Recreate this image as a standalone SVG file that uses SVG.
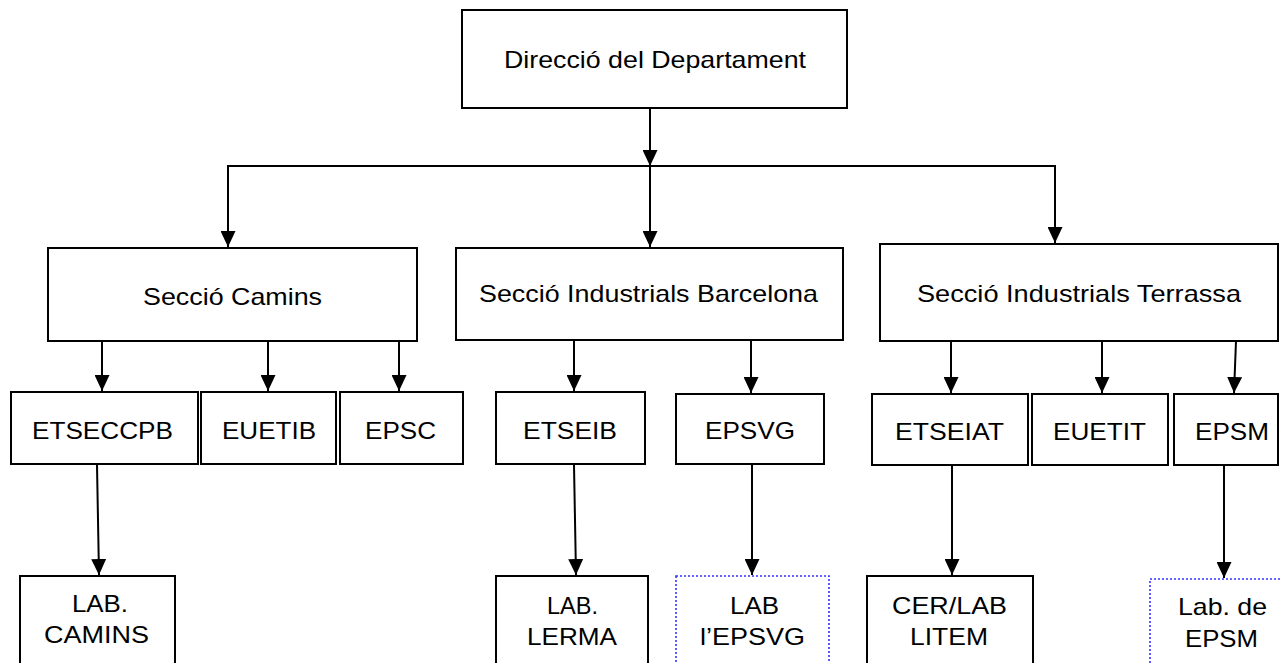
<svg xmlns="http://www.w3.org/2000/svg" width="1280" height="663" viewBox="0 0 1280 663">
<style>
.box{fill:#fff;stroke:#000;stroke-width:2}
.dot{fill:#fff;stroke:#3333ff;stroke-width:1.6;stroke-dasharray:2 2}
.t{font-family:"Liberation Sans",Arial,sans-serif;font-size:24px;fill:#000;text-anchor:middle}
.c{fill:none;stroke:#000;stroke-width:2}
</style>
<defs>
<marker id="ah" markerUnits="userSpaceOnUse" markerWidth="16" markerHeight="15" viewBox="0 0 16 15" refX="16" refY="7.5" orient="auto">
<path d="M0,0 L16,7.5 L0,15 z" fill="#000"/>
</marker>
</defs>
<rect width="1280" height="663" fill="#fff"/>
<g id="connectors">
<line class="c" x1="650" y1="108" x2="650" y2="166" marker-end="url(#ah)"/>
<polyline class="c" points="228,248 228,166 1055,166 1055,244" marker-end="none"/>
<line class="c" x1="228" y1="166" x2="228" y2="247" marker-end="url(#ah)"/>
<line class="c" x1="1055" y1="166" x2="1055" y2="243" marker-end="url(#ah)"/>
<line class="c" x1="650" y1="166" x2="650" y2="247" marker-end="url(#ah)"/>
<line class="c" x1="102" y1="341" x2="102" y2="391" marker-end="url(#ah)"/>
<line class="c" x1="268" y1="341" x2="268" y2="391" marker-end="url(#ah)"/>
<line class="c" x1="399" y1="341" x2="399" y2="391" marker-end="url(#ah)"/>
<line class="c" x1="574" y1="340" x2="574" y2="391" marker-end="url(#ah)"/>
<line class="c" x1="751" y1="340" x2="751" y2="393" marker-end="url(#ah)"/>
<line class="c" x1="951" y1="341" x2="951" y2="393" marker-end="url(#ah)"/>
<line class="c" x1="1102" y1="341" x2="1102" y2="393" marker-end="url(#ah)"/>
<line class="c" x1="1236" y1="341" x2="1234" y2="393" marker-end="url(#ah)"/>
<line class="c" x1="97" y1="465" x2="99" y2="575" marker-end="url(#ah)"/>
<line class="c" x1="574" y1="465" x2="576" y2="575" marker-end="url(#ah)"/>
<line class="c" x1="752" y1="465" x2="752" y2="575" marker-end="url(#ah)"/>
<line class="c" x1="952" y1="466" x2="952" y2="575" marker-end="url(#ah)"/>
<line class="c" x1="1224" y1="466" x2="1224" y2="578" marker-end="url(#ah)"/>
</g>
<g id="direccio"><rect class="box" x="462" y="10" width="385" height="98"/><text class="t" x="655" y="68" font-size="23" textLength="302" lengthAdjust="spacingAndGlyphs">Direcció del Departament</text></g>
<g id="seccio-camins"><rect class="box" x="48" y="248" width="369" height="93"/><text class="t" x="232.5" y="305" textLength="179" lengthAdjust="spacingAndGlyphs">Secció Camins</text></g>
<g id="seccio-ib"><rect class="box" x="456" y="248" width="387" height="92"/><text class="t" x="648.5" y="302" textLength="339" lengthAdjust="spacingAndGlyphs">Secció Industrials Barcelona</text></g>
<g id="seccio-it"><rect class="box" x="880" y="244" width="398" height="97"/><text class="t" x="1079" y="302" textLength="324" lengthAdjust="spacingAndGlyphs">Secció Industrials Terrassa</text></g>
<g id="etseccpb"><rect class="box" x="11" y="392" width="187" height="72"/><text class="t" x="102.5" y="439" textLength="141" lengthAdjust="spacingAndGlyphs">ETSECCPB</text></g>
<g id="euetib"><rect class="box" x="201" y="392" width="135" height="72"/><text class="t" x="269" y="439" textLength="94" lengthAdjust="spacingAndGlyphs">EUETIB</text></g>
<g id="epsc"><rect class="box" x="340" y="392" width="123" height="72"/><text class="t" x="400.5" y="439" textLength="71" lengthAdjust="spacingAndGlyphs">EPSC</text></g>
<g id="etseib"><rect class="box" x="496" y="392" width="149" height="72"/><text class="t" x="570" y="439" textLength="94" lengthAdjust="spacingAndGlyphs">ETSEIB</text></g>
<g id="epsvg"><rect class="box" x="676" y="394" width="148" height="70"/><text class="t" x="750" y="439" textLength="90" lengthAdjust="spacingAndGlyphs">EPSVG</text></g>
<g id="etseiat"><rect class="box" x="872" y="394" width="156" height="71"/><text class="t" x="949.5" y="440" textLength="109" lengthAdjust="spacingAndGlyphs">ETSEIAT</text></g>
<g id="euetit"><rect class="box" x="1032" y="394" width="136" height="71"/><text class="t" x="1099.5" y="440" textLength="93" lengthAdjust="spacingAndGlyphs">EUETIT</text></g>
<g id="epsm"><rect class="box" x="1174" y="394" width="104" height="71"/><text class="t" x="1232" y="440" textLength="74" lengthAdjust="spacingAndGlyphs">EPSM</text></g>
<g id="lab-camins"><rect class="box" x="20" y="576" width="155" height="100"/><text class="t" x="100" y="612" textLength="56" lengthAdjust="spacingAndGlyphs">LAB.</text><text class="t" x="96.5" y="643" textLength="105" lengthAdjust="spacingAndGlyphs">CAMINS</text></g>
<g id="lab-lerma"><rect class="box" x="496" y="576" width="152" height="100"/><text class="t" x="572.5" y="614" textLength="51" lengthAdjust="spacingAndGlyphs">LAB.</text><text class="t" x="572" y="645" textLength="90" lengthAdjust="spacingAndGlyphs">LERMA</text></g>
<g id="lab-epsvg"><rect class="dot" x="676" y="576" width="153" height="100"/><text class="t" x="754.5" y="614" textLength="49" lengthAdjust="spacingAndGlyphs">LAB</text><text class="t" x="752.5" y="645" textLength="105" lengthAdjust="spacingAndGlyphs">l’EPSVG</text></g>
<g id="cer-lab-litem"><rect class="box" x="867" y="576" width="166" height="100"/><text class="t" x="949.5" y="614" textLength="115" lengthAdjust="spacingAndGlyphs">CER/LAB</text><text class="t" x="949" y="645" textLength="78" lengthAdjust="spacingAndGlyphs">LITEM</text></g>
<g id="lab-epsm"><rect class="dot" x="1150" y="579" width="140" height="100"/><text class="t" x="1222.5" y="615" textLength="89" lengthAdjust="spacingAndGlyphs">Lab. de</text><text class="t" x="1221.5" y="647" textLength="73" lengthAdjust="spacingAndGlyphs">EPSM</text></g>
</svg>
